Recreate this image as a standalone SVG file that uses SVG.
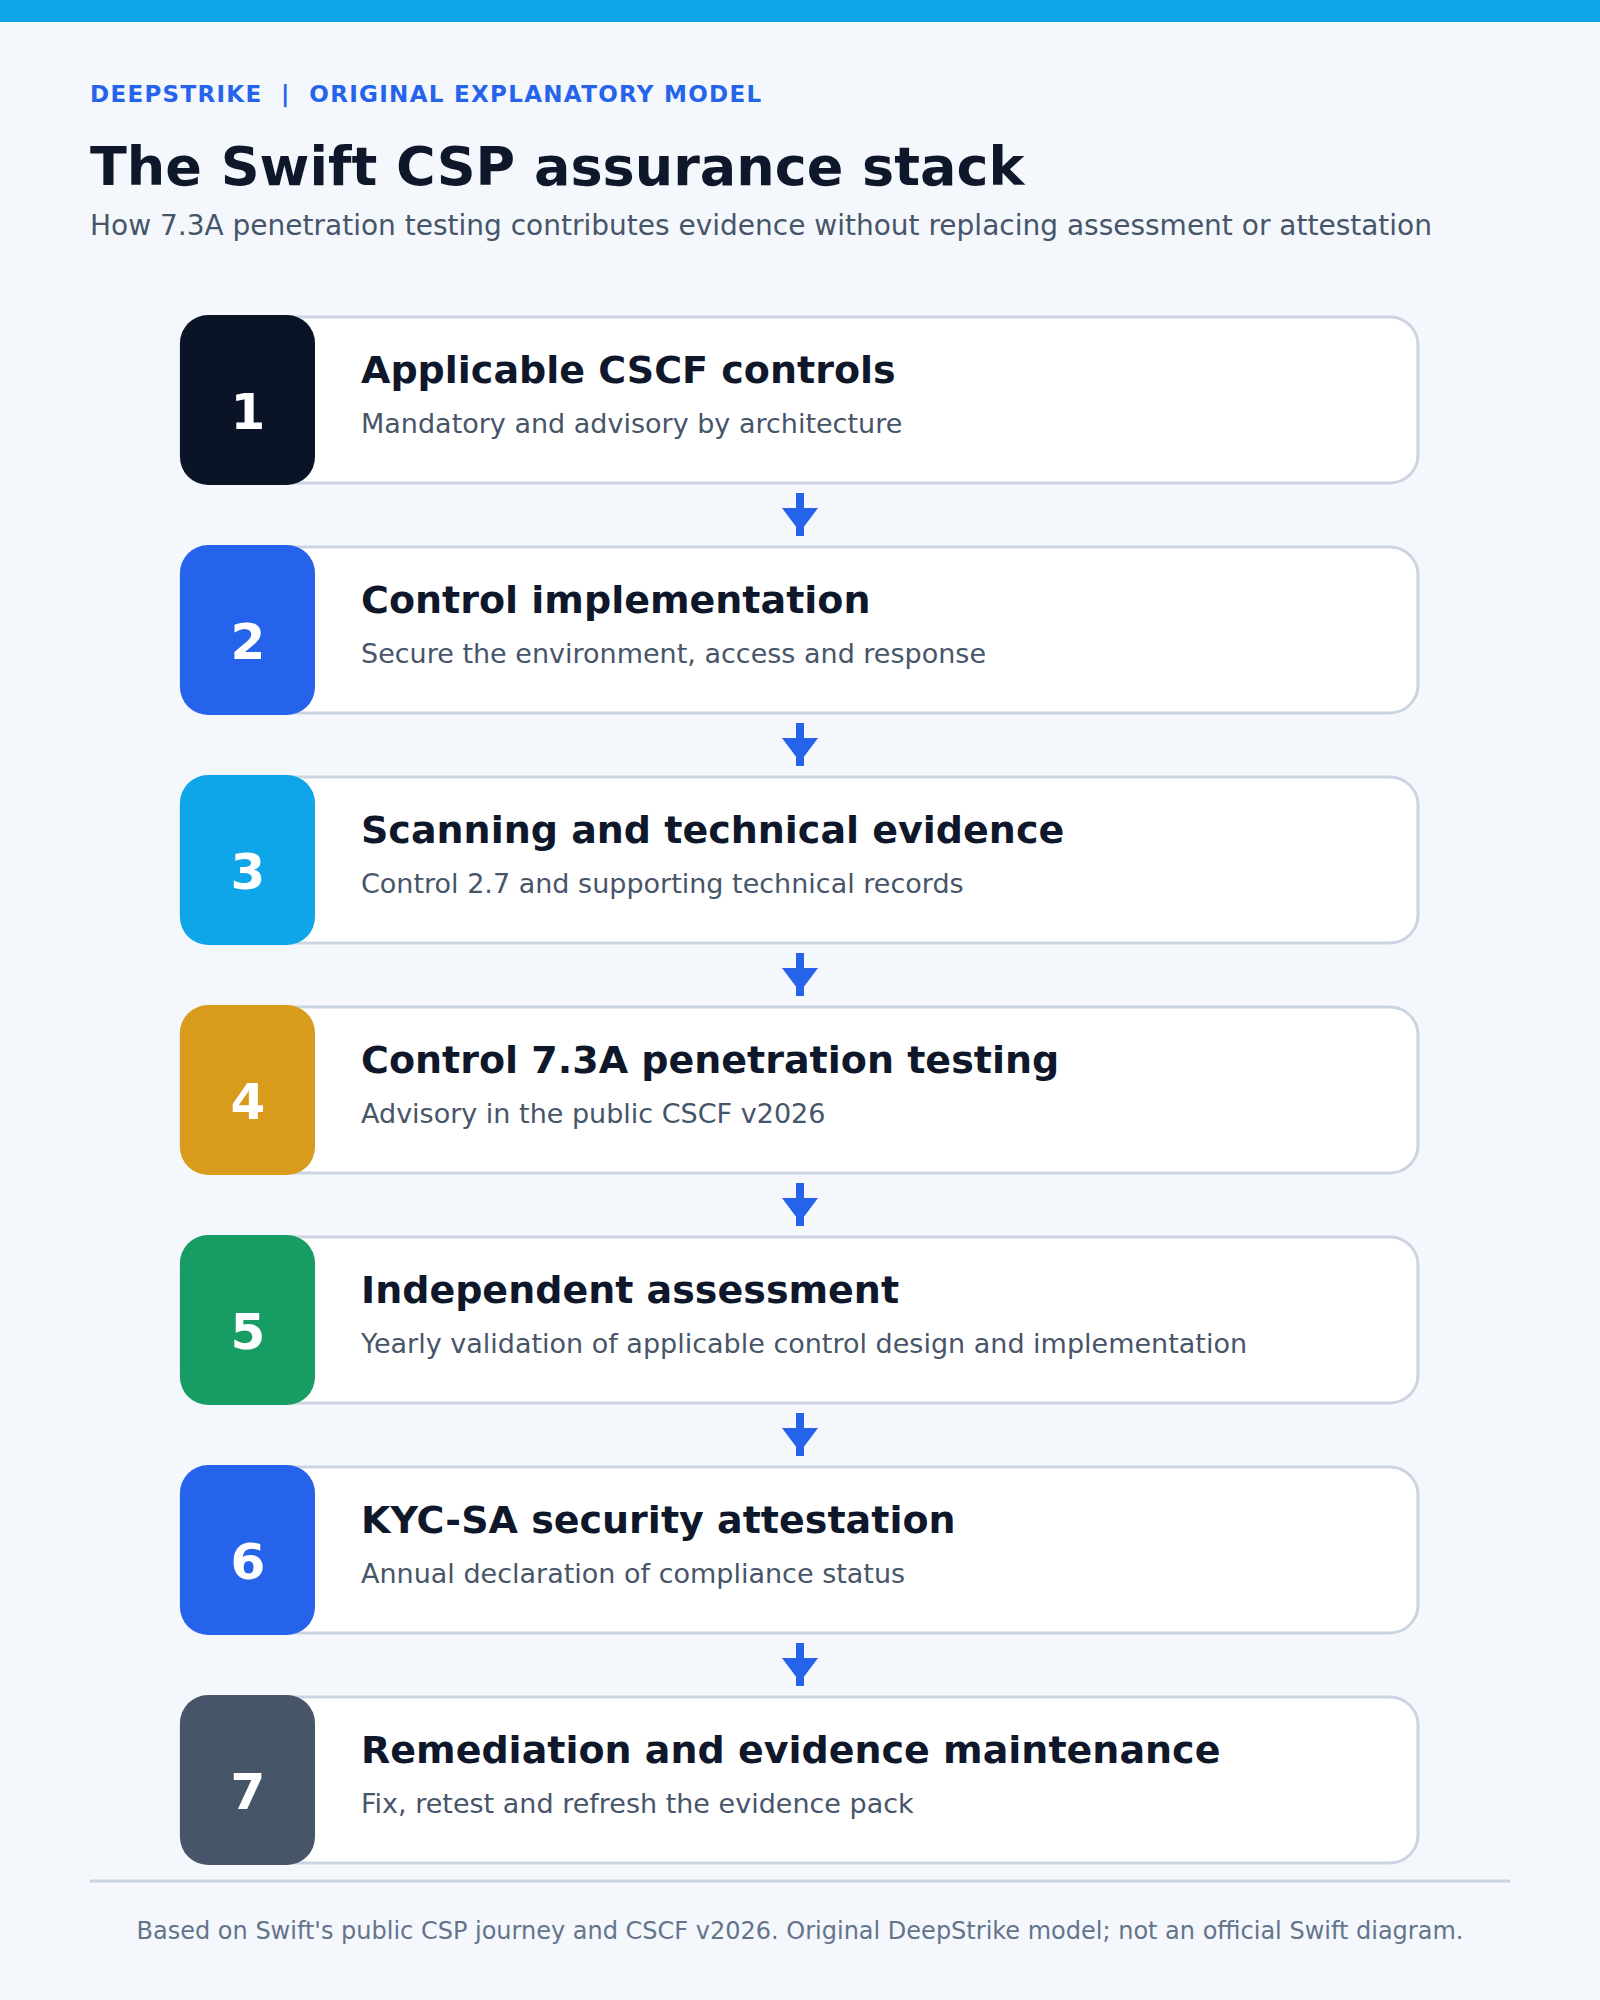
<svg xmlns="http://www.w3.org/2000/svg" width="1600" height="2000" viewBox="0 0 1600 2000">
<style>
.bg{fill:#f4f7fc}
.card{fill:#ffffff;stroke:#cbd5e1;stroke-width:3}
.num{font-family:"DejaVu Sans",Verdana,sans-serif;font-weight:bold;font-size:50px;fill:#ffffff;text-anchor:middle}
.ttl{font-family:"DejaVu Sans",Verdana,sans-serif;font-weight:bold;font-size:38px;fill:#0f172a}
.sub{font-family:"DejaVu Sans",Verdana,sans-serif;font-size:27px;fill:#475569}
.arr line{stroke:#2563eb;stroke-width:8}
.arr polygon{fill:#2563eb}
</style>
<rect class="bg" x="0" y="0" width="1600" height="2000"/>
<rect x="0" y="0" width="1600" height="22" fill="#0ea5e9"/>
<text x="90" y="102" font-family="DejaVu Sans, Verdana, sans-serif" font-weight="bold" font-size="23" letter-spacing="1.3" fill="#2563eb" xml:space="preserve">DEEPSTRIKE  |  ORIGINAL EXPLANATORY MODEL</text>
<text x="90" y="185" font-family="DejaVu Sans, Verdana, sans-serif" font-weight="bold" font-size="54" fill="#0f172a">The Swift CSP assurance stack</text>
<text x="90" y="235" font-family="DejaVu Sans, Verdana, sans-serif" font-size="28" fill="#475569">How 7.3A penetration testing contributes evidence without replacing assessment or attestation</text>

<g id="node1">
<rect class="card" x="181" y="317" width="1237" height="166" rx="28"/>
<rect x="180" y="315" width="135" height="170" rx="28" fill="#0b1426"/>
<text class="num" x="248" y="429">1</text>
<text class="ttl" x="361" y="383">Applicable CSCF controls</text>
<text class="sub" x="361" y="433">Mandatory and advisory by architecture</text>
</g>
<g id="node2">
<rect class="card" x="181" y="547" width="1237" height="166" rx="28"/>
<rect x="180" y="545" width="135" height="170" rx="28" fill="#2563eb"/>
<text class="num" x="248" y="659">2</text>
<text class="ttl" x="361" y="613">Control implementation</text>
<text class="sub" x="361" y="663">Secure the environment, access and response</text>
</g>
<g id="node3">
<rect class="card" x="181" y="777" width="1237" height="166" rx="28"/>
<rect x="180" y="775" width="135" height="170" rx="28" fill="#0ea5e9"/>
<text class="num" x="248" y="889">3</text>
<text class="ttl" x="361" y="843">Scanning and technical evidence</text>
<text class="sub" x="361" y="893">Control 2.7 and supporting technical records</text>
</g>
<g id="node4">
<rect class="card" x="181" y="1007" width="1237" height="166" rx="28"/>
<rect x="180" y="1005" width="135" height="170" rx="28" fill="#d99b1b"/>
<text class="num" x="248" y="1119">4</text>
<text class="ttl" x="361" y="1073">Control 7.3A penetration testing</text>
<text class="sub" x="361" y="1123">Advisory in the public CSCF v2026</text>
</g>
<g id="node5">
<rect class="card" x="181" y="1237" width="1237" height="166" rx="28"/>
<rect x="180" y="1235" width="135" height="170" rx="28" fill="#179c63"/>
<text class="num" x="248" y="1349">5</text>
<text class="ttl" x="361" y="1303">Independent assessment</text>
<text class="sub" x="361" y="1353">Yearly validation of applicable control design and implementation</text>
</g>
<g id="node6">
<rect class="card" x="181" y="1467" width="1237" height="166" rx="28"/>
<rect x="180" y="1465" width="135" height="170" rx="28" fill="#2563eb"/>
<text class="num" x="248" y="1579">6</text>
<text class="ttl" x="361" y="1533">KYC-SA security attestation</text>
<text class="sub" x="361" y="1583">Annual declaration of compliance status</text>
</g>
<g id="node7">
<rect class="card" x="181" y="1697" width="1237" height="166" rx="28"/>
<rect x="180" y="1695" width="135" height="170" rx="28" fill="#475569"/>
<text class="num" x="248" y="1809">7</text>
<text class="ttl" x="361" y="1763">Remediation and evidence maintenance</text>
<text class="sub" x="361" y="1813">Fix, retest and refresh the evidence pack</text>
</g>

<g id="connectors" class="arr">
<line x1="800" y1="493" x2="800" y2="536"/><polygon points="782,508 818,508 800,532"/>
<line x1="800" y1="723" x2="800" y2="766"/><polygon points="782,738 818,738 800,762"/>
<line x1="800" y1="953" x2="800" y2="996"/><polygon points="782,968 818,968 800,992"/>
<line x1="800" y1="1183" x2="800" y2="1226"/><polygon points="782,1198 818,1198 800,1222"/>
<line x1="800" y1="1413" x2="800" y2="1456"/><polygon points="782,1428 818,1428 800,1452"/>
<line x1="800" y1="1643" x2="800" y2="1686"/><polygon points="782,1658 818,1658 800,1682"/>
</g>

<line x1="90" y1="1881" x2="1510" y2="1881" stroke="#cbd5e1" stroke-width="3"/>
<text x="800" y="1939" text-anchor="middle" font-family="DejaVu Sans, Verdana, sans-serif" font-size="24" fill="#64748b">Based on Swift's public CSP journey and CSCF v2026. Original DeepStrike model; not an official Swift diagram.</text>
</svg>
